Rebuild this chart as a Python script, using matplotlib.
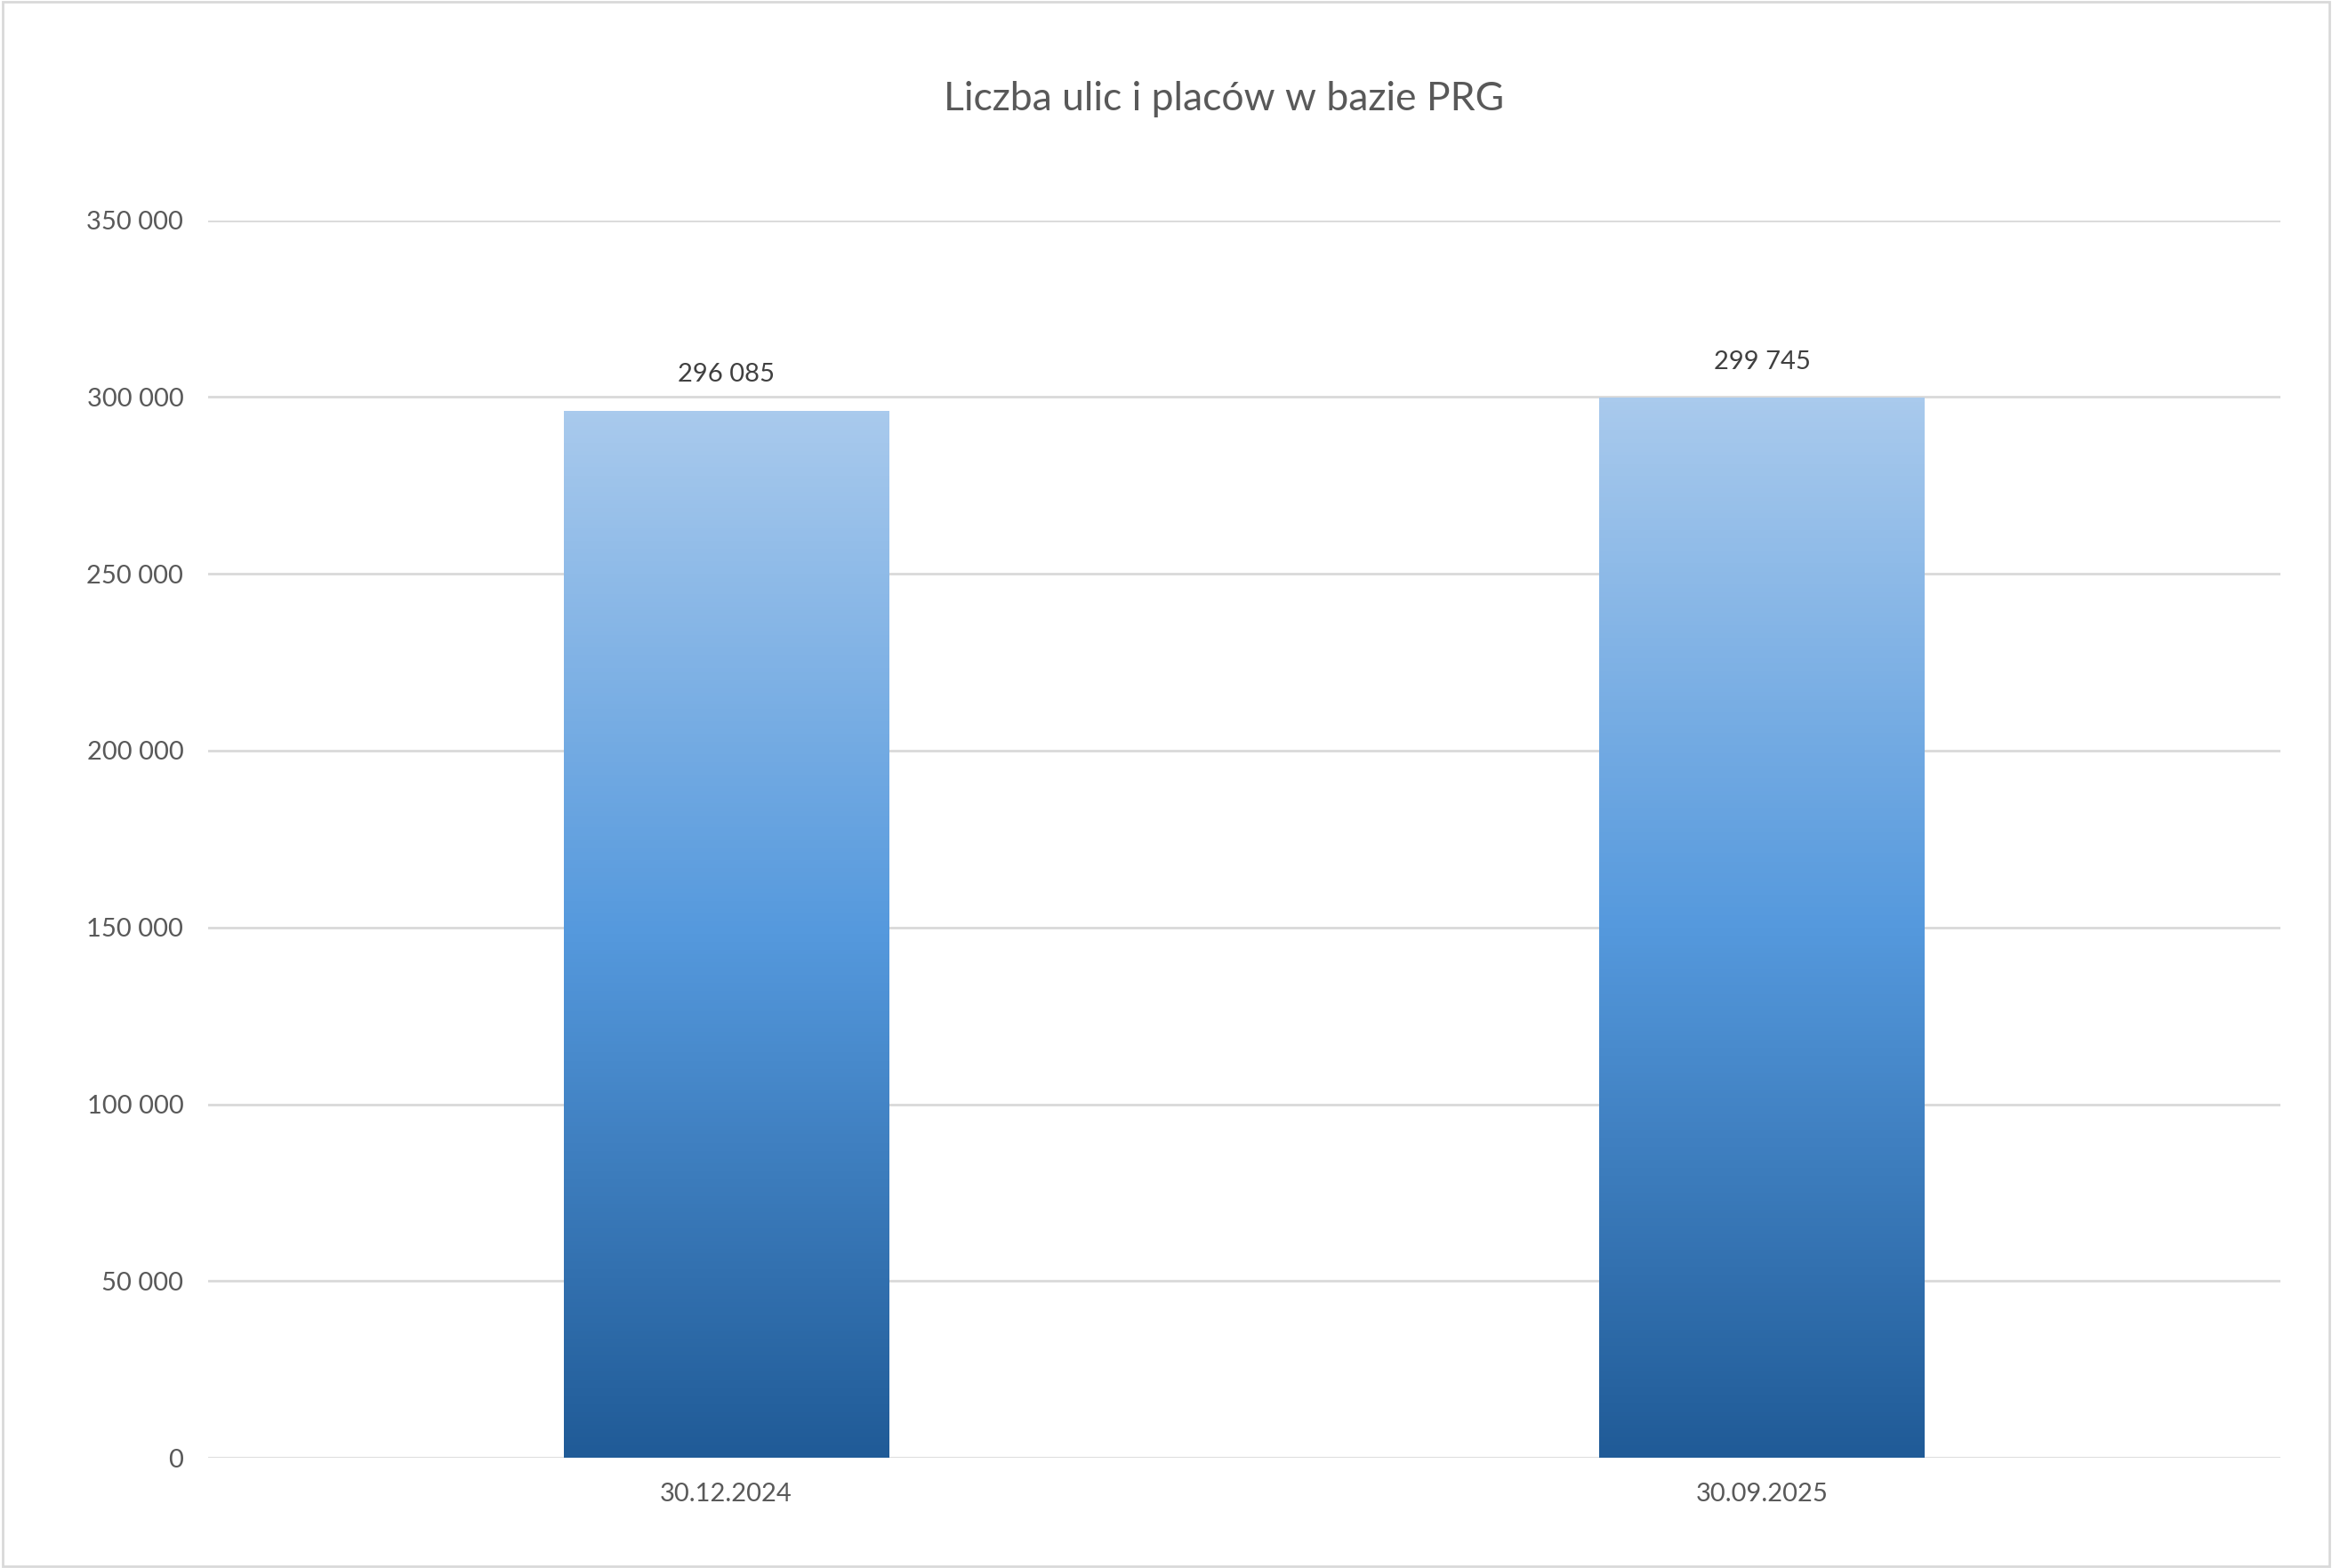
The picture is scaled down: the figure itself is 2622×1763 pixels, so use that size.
import matplotlib
matplotlib.use("Agg")
import matplotlib.pyplot as plt
import numpy as np
from matplotlib.colors import LinearSegmentedColormap
from matplotlib.patches import Rectangle

categories = ["30.12.2024", "30.09.2025"]
values = [296085, 299745]
labels = ["296 085", "299 745"]
yticks = [0, 50000, 100000, 150000, 200000, 250000, 300000, 350000]
yticklabels = ["0", "50 000", "100 000", "150 000", "200 000", "250 000", "300 000", "350 000"]

plt.rcParams['font.family'] = ['Lato', 'DejaVu Sans']
fig = plt.figure(figsize=(26.22, 17.63), dpi=100)
fig.patches.append(Rectangle((0.001, 0.001), 0.998, 0.998, transform=fig.transFigure,
                             fill=False, edgecolor="#d9d9d9", linewidth=2))
ax = fig.add_axes([0.0893, 0.0702, 0.8884, 0.7894])
ax.set_xlim(-0.5, 1.5)
ax.set_ylim(0, 350000)
ax.set_yticks(yticks)
ax.set_yticklabels(yticklabels)
ax.grid(axis="y", color="#d9d9d9", linewidth=2)
ax.set_axisbelow(True)
for s in ax.spines.values():
    s.set_visible(False)
ax.tick_params(length=0, labelsize=21, colors="#595959", pad=20)
ax.set_xticks(range(len(categories)))
ax.set_xticklabels(categories)

cmap = LinearSegmentedColormap.from_list("g", ["#205b97", "#5599dd", "#a9caed"])
grad = np.linspace(0, 1, 256).reshape(-1, 1)
w = 0.314
bars = ax.bar(range(len(values)), values, width=w, color="none", zorder=2)
for i, (b, v) in enumerate(zip(bars, values)):
    im = ax.imshow(grad, cmap=cmap, origin="lower", aspect="auto",
                   extent=[i - w / 2, i + w / 2, 0, v], zorder=2)
    im.set_clip_path(b)
    ax.text(i, v + 7000, labels[i], ha="center", va="bottom", fontsize=21, color="#404040")
ax.set_xlim(-0.5, 1.5)
ax.set_ylim(0, 350000)
fig.text(0.525, 0.937, "Liczba ulic i placów w bazie PRG", ha="center", va="center",
         fontsize=32, color="#595959")
fig.savefig("out.png", dpi=100)
